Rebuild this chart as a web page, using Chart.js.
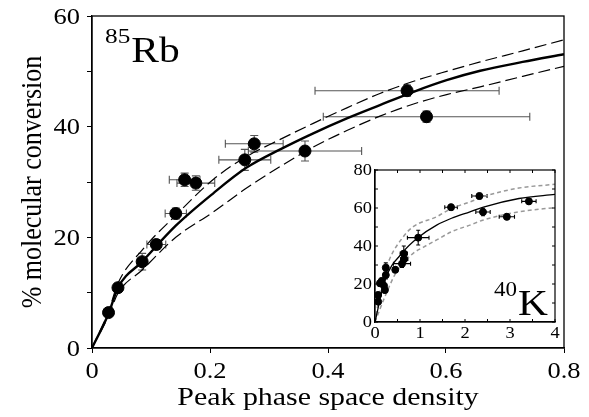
<!DOCTYPE html>
<html>
<head>
<meta charset="utf-8">
<script src="https://cdn.jsdelivr.net/npm/chart.js@4/dist/chart.umd.min.js"></script>
<style>
  html, body { margin: 0; padding: 0; background: #fff; }
  #wrap { position: relative; width: 589px; height: 417px; overflow: hidden; }
  #main { position: absolute; left: 0; top: 0; }
  #inset { position: absolute; left: 330px; top: 160px; }
</style>
</head>
<body>
<div id="wrap">
  <canvas id="main" width="589" height="417"></canvas>
  <canvas id="inset" width="235" height="190"></canvas>
</div>
<script>
// 85Rb points (x, y, error bars)
const rbX    = [0.028, 0.044, 0.085, 0.109, 0.142, 0.157, 0.176, 0.259, 0.275, 0.361, 0.534, 0.567];
const rbY    = [6.4, 10.9, 15.6, 18.7, 24.3, 30.4, 29.8, 34.0, 36.9, 35.6, 46.5, 41.8];
const rbXErr = [0.004, 0.006, 0.008, 0.016, 0.018, 0.026, 0.032, 0.044, 0.049, 0.096, 0.156, 0.175];
const rbYErr = [0.6, 0.8, 1.5, 0.9, 1.0, 1.2, 1.3, 1.9, 1.5, 1.8, 1.0, 1.0];

// 85Rb fit curve and its bounds
const fitX    = [0, 0.028, 0.044, 0.085, 0.142, 0.206, 0.262, 0.319, 0.375, 0.432, 0.488, 0.545, 0.601, 0.658, 0.73, 0.8];
const fitMid  = [0, 6.2, 10.9, 15.6, 22.1, 28.0, 32.6, 35.9, 38.8, 41.5, 43.9, 46.3, 48.4, 50.1, 51.7, 53.1];
const fitHigh = [0, 6.6, 11.7, 17.7, 24.0, 30.5, 34.6, 37.7, 40.6, 43.4, 46.0, 48.2, 50.0, 51.7, 53.7, 55.7];
const fitLow  = [0, 5.8, 9.9, 14.1, 20.0, 24.6, 28.9, 32.8, 36.3, 39.3, 41.9, 44.1, 45.8, 47.2, 49.1, 50.9];

// 40K inset points
const kX    = [0.07, 0.07, 0.11, 0.15, 0.20, 0.22, 0.24, 0.24, 0.45, 0.60, 0.64, 0.65, 0.96, 1.69, 2.32, 2.40, 2.93, 3.42];
const kY    = [10.7, 14.2, 20.4, 21.6, 19.1, 16.8, 24.7, 28.6, 27.5, 30.7, 36.0, 33.2, 44.4, 60.4, 66.3, 57.9, 55.4, 63.5];
const kXErr = [0.02, 0.02, 0.03, 0.03, 0.03, 0.03, 0.03, 0.03, 0.05, 0.19, 0.08, 0.08, 0.24, 0.14, 0.17, 0.16, 0.17, 0.16];
const kYErr = [1.5, 1.5, 1.5, 1.5, 1.5, 1.5, 2.0, 2.5, 1.5, 2.0, 4.0, 2.0, 3.9, 1.5, 1.5, 2.0, 1.5, 1.5];

// 40K fit curve and bounds
const kFitX    = [0, 0.22, 0.63, 0.96, 1.37, 1.70, 2.11, 2.41, 3.2, 4];
const kFitMid  = [0, 22.0, 37.0, 44.5, 51.0, 54.6, 58.0, 60.5, 65.0, 67.2];
const kHighX   = [0, 0.13, 0.3, 0.63, 0.85, 1.37, 1.70, 2.11, 2.41, 3.2, 4];
const kFitHigh = [0, 18.0, 31.7, 44.9, 50.2, 55.4, 59.8, 63.2, 66.0, 70.5, 72.5];
const kLowX    = [0, 0.22, 0.48, 0.85, 1.07, 1.37, 1.70, 2.11, 2.41, 3.2, 4];
const kFitLow  = [0, 13.3, 26.5, 36.2, 39.3, 43.2, 47.5, 51.0, 53.7, 58.0, 60.2];

const SERIF = '"Liberation Serif", "Times New Roman", serif';
// the original figure's lettering is a little wider than Times, so stretch it
const SX = 1.15;

function pts(xs, ys) {
    return xs.map((x, i) => ({ x: x, y: ys[i] }));
}

// text drawn with the horizontal stretch; rot = -90 for the y title
function text(ctx, str, x, y, size, align, base, rot) {
    ctx.save();
    ctx.translate(x, y);
    ctx.scale(SX, 1);
    if (rot) ctx.rotate(rot * Math.PI / 180);
    ctx.font = size + 'px ' + SERIF;
    ctx.fillStyle = '#000';
    ctx.textAlign = align;
    ctx.textBaseline = base;
    ctx.fillText(str, 0, 0);
    const w = ctx.measureText(str).width * SX;
    ctx.restore();
    return w;
}

// error bars drawn under the markers, through the chart scales
function errorBars(xs, ys, xe, ye, color, cap) {
    return {
        id: 'errbars',
        beforeDatasetsDraw(chart) {
            const ctx = chart.ctx;
            const sx = chart.scales.x, sy = chart.scales.y;
            ctx.save();
            ctx.strokeStyle = color;
            ctx.lineWidth = 1.1;
            xs.forEach((x, i) => {
                const px = sx.getPixelForValue(x), py = sy.getPixelForValue(ys[i]);
                const x0 = sx.getPixelForValue(x - xe[i]), x1 = sx.getPixelForValue(x + xe[i]);
                const y0 = sy.getPixelForValue(ys[i] - ye[i]), y1 = sy.getPixelForValue(ys[i] + ye[i]);
                ctx.beginPath();
                ctx.moveTo(x0, py); ctx.lineTo(x1, py);
                ctx.moveTo(x0, py - cap); ctx.lineTo(x0, py + cap);
                ctx.moveTo(x1, py - cap); ctx.lineTo(x1, py + cap);
                ctx.moveTo(px, y0); ctx.lineTo(px, y1);
                ctx.moveTo(px - cap, y0); ctx.lineTo(px + cap, y0);
                ctx.moveTo(px - cap, y1); ctx.lineTo(px + cap, y1);
                ctx.stroke();
            });
            ctx.restore();
        }
    };
}

// box, optional inward ticks, tick labels, titles and the isotope label
function decor(o) {
    return {
        id: 'decor',
        afterDraw(chart) {
            const ctx = chart.ctx;
            const a = chart.chartArea;
            const sx = chart.scales.x, sy = chart.scales.y;
            ctx.save();
            ctx.strokeStyle = '#000';
            ctx.lineWidth = o.lw;
            ctx.strokeRect(a.left, a.top, a.right - a.left, a.bottom - a.top);
            if (o.inTicks) {
                ctx.lineWidth = 1;
                sx.ticks.forEach(tk => {
                    const px = sx.getPixelForValue(tk.value);
                    ctx.beginPath();
                    ctx.moveTo(px, a.bottom); ctx.lineTo(px, a.bottom - o.inTicks);
                    ctx.moveTo(px, a.top); ctx.lineTo(px, a.top + o.inTicks);
                    ctx.stroke();
                });
                sy.ticks.forEach(tk => {
                    const py = sy.getPixelForValue(tk.value);
                    ctx.beginPath();
                    ctx.moveTo(a.left, py); ctx.lineTo(a.left + o.inTicks, py);
                    ctx.moveTo(a.right, py); ctx.lineTo(a.right - o.inTicks, py);
                    ctx.stroke();
                });
            }
            ctx.restore();

            // tick labels
            sx.ticks.forEach(tk => {
                const s = o.xFmt(tk.value);
                if (s) text(ctx, s, sx.getPixelForValue(tk.value), o.xBase, o.tick, 'center', 'alphabetic');
            });
            sy.ticks.forEach(tk => {
                const s = o.yFmt(tk.value);
                if (s) text(ctx, s, o.yRight, sy.getPixelForValue(tk.value) + o.tick * 0.33, o.tick, 'right', 'alphabetic');
            });

            // axis titles
            if (o.xTitle) {
                text(ctx, o.xTitle, (a.left + a.right) / 2, o.xTitleBase, o.titleSize, 'center', 'alphabetic');
                text(ctx, o.yTitle, o.yTitleX, (a.top + a.bottom) / 2, o.titleSize, 'center', 'middle', -90);
            }

            // isotope label: small mass number then element symbol
            const L = o.label;
            const w = text(ctx, L.mass, L.x, L.supBase, L.supSize, 'left', 'alphabetic');
            text(ctx, L.sym, L.x + w + 1, L.base, L.size, 'left', 'alphabetic');
        }
    };
}

new Chart(document.getElementById('main'), {
    type: 'scatter',
    data: {
        datasets: [
            { data: pts(rbX, rbY), pointRadius: 6, pointHoverRadius: 6, backgroundColor: '#000', borderColor: '#000' },
            { data: pts(fitX, fitMid), showLine: true, pointRadius: 0, borderColor: '#000', borderWidth: 2.4, cubicInterpolationMode: 'monotone' },
            { data: pts(fitX, fitHigh), showLine: true, pointRadius: 0, borderColor: '#000', borderWidth: 1.2, borderDash: [12, 5], cubicInterpolationMode: 'monotone' },
            { data: pts(fitX, fitLow), showLine: true, pointRadius: 0, borderColor: '#000', borderWidth: 1.2, borderDash: [12, 5], cubicInterpolationMode: 'monotone' }
        ]
    },
    options: {
        responsive: false,
        animation: false,
        layout: { padding: { top: 16, right: 25, left: 0, bottom: 0 } },
        plugins: { legend: { display: false }, tooltip: { enabled: false } },
        scales: {
            x: {
                type: 'linear', min: 0, max: 0.8,
                ticks: { stepSize: 0.2, display: false },
                grid: { drawOnChartArea: false, tickLength: 5, color: '#000' },
                border: { color: '#000', width: 1.3 },
                afterFit: s => { s.height = 69; }
            },
            y: {
                type: 'linear', min: 0, max: 60,
                ticks: { stepSize: 10, display: false },
                grid: { drawOnChartArea: false, tickLength: 5, color: '#000' },
                border: { color: '#000', width: 1.3 },
                afterFit: s => { s.width = 92; }
            }
        }
    },
    plugins: [
        errorBars(rbX, rbY, rbXErr, rbYErr, '#555', 4),
        decor({
            lw: 1.3, tick: 23, xBase: 378, yRight: 80,
            xFmt: v => String(+v.toFixed(1)),
            yFmt: v => (v % 20 === 0 ? String(v) : ''),
            xTitle: 'Peak phase space density', xTitleBase: 405,
            yTitle: '% molecular conversion', yTitleX: 33, titleSize: 26,
            label: { mass: '85', sym: 'Rb', x: 105, supBase: 43, supSize: 22, base: 62, size: 36 }
        })
    ]
});

new Chart(document.getElementById('inset'), {
    type: 'scatter',
    data: {
        datasets: [
            { data: pts(kX, kY), pointRadius: 3.5, pointHoverRadius: 3.5, backgroundColor: '#000', borderColor: '#000' },
            { data: pts(kFitX, kFitMid), showLine: true, pointRadius: 0, borderColor: '#000', borderWidth: 1.3, cubicInterpolationMode: 'monotone' },
            { data: pts(kHighX, kFitHigh), showLine: true, pointRadius: 0, borderColor: '#999', borderWidth: 1.5, borderDash: [4, 3], cubicInterpolationMode: 'monotone' },
            { data: pts(kLowX, kFitLow), showLine: true, pointRadius: 0, borderColor: '#999', borderWidth: 1.5, borderDash: [4, 3], cubicInterpolationMode: 'monotone' }
        ]
    },
    options: {
        responsive: false,
        animation: false,
        layout: { padding: { top: 10, right: 10, left: 0, bottom: 0 } },
        plugins: { legend: { display: false }, tooltip: { enabled: false } },
        scales: {
            x: {
                type: 'linear', min: 0, max: 4,
                ticks: { stepSize: 0.5, display: false },
                grid: { drawOnChartArea: false, drawTicks: false },
                border: { color: '#000', width: 1.2 },
                afterFit: s => { s.height = 28; }
            },
            y: {
                type: 'linear', min: 0, max: 80,
                ticks: { stepSize: 10, display: false },
                grid: { drawOnChartArea: false, drawTicks: false },
                border: { color: '#000', width: 1.2 },
                afterFit: s => { s.width = 45; }
            }
        }
    },
    plugins: [
        errorBars(kX, kY, kXErr, kYErr, '#000', 2),
        decor({
            lw: 1.2, inTicks: 3, tick: 16, xBase: 178, yRight: 42,
            xFmt: v => (Number.isInteger(v) ? String(v) : ''),
            yFmt: v => (v % 20 === 0 ? String(v) : ''),
            label: { mass: '40', sym: 'K', x: 164, supBase: 136, supSize: 20, base: 155, size: 36 }
        })
    ]
});
</script>
</body>
</html>
